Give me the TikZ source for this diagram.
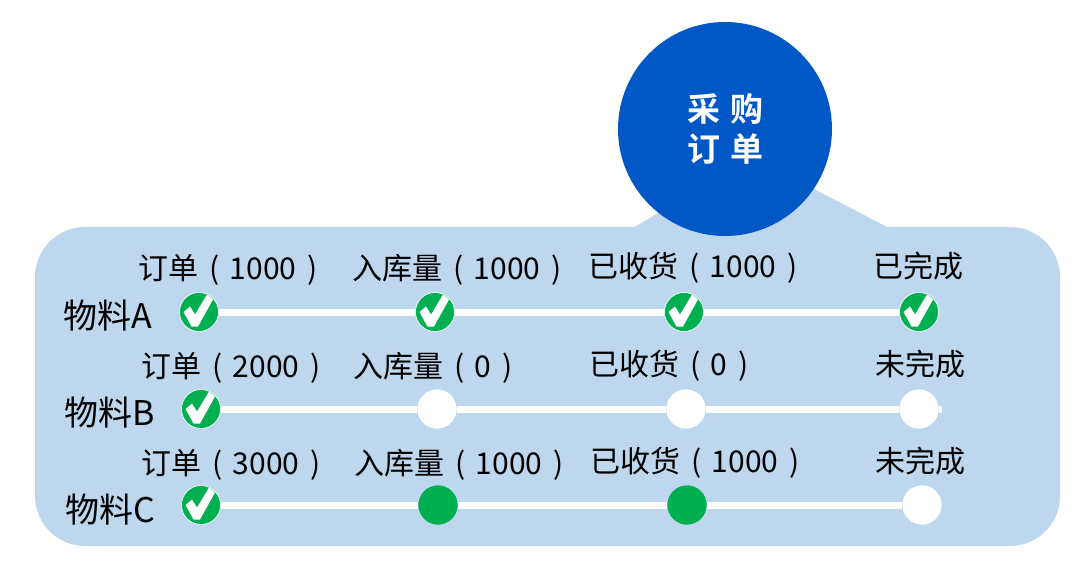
\documentclass[tikz,border=0pt]{standalone}
\usepackage{fontspec}
\setmainfont{Noto Sans CJK SC}
\newfontfamily\boldcjk{Noto Sans CJK SC Bold}
\definecolor{panel}{HTML}{BDD7EE}
\definecolor{disc}{HTML}{0058C6}
\definecolor{okgreen}{HTML}{00B050}
\newcommand{\gp}{\hspace{10.5pt}}
\tikzset{
  x=1pt,y=-1pt,
  lbl/.style={inner sep=0pt,font=\fontsize{30}{30}\selectfont,text=black},
  rowname/.style={inner sep=0pt,font=\fontsize{34}{34}\selectfont,text=black},
  dot/.style={circle,minimum size=39pt,inner sep=0pt},
  done/.style={dot,fill=okgreen,draw=white,line width=0.6pt,minimum size=39pt},
  open/.style={dot,fill=white},
  full/.style={dot,fill=okgreen},
  track/.style={white,line width=7pt},
  tick/.pic={\fill[white] (-15.5,0) -- (-9,-5.5) -- (-4,2.5) -- (8,-17.5) -- (14,-12.5) -- (-1,14.5) -- (-7.5,14.5) -- cycle;}
}
\begin{document}
\begin{tikzpicture}
\useasboundingbox (0,0) rectangle (1084,572);
\fill[panel,rounded corners=50pt] (35,227) rectangle (1060,546);
\fill[panel] (633,228) -- (665,209) -- (812,188) -- (889,228) -- cycle;
\node[circle,fill=disc,minimum size=214pt,inner sep=0pt] (hub) at (725,129) {};
\node[inner sep=0pt,text=white,font=\boldcjk\fontsize{33}{40}\selectfont,align=center] (hubt) at (725,129) {采\hspace{10pt}购\\订\hspace{10pt}单};
% row A
\node[done] (a1) at (199,312) {};
\node[done] (a2) at (435,312) {};
\node[done] (a3) at (684,312) {};
\node[done] (a4) at (919,312) {};
\draw[track] (a1) -- (a2);
\draw[track] (a2) -- (a3);
\draw[track] (a3) -- (a4);
\foreach \n in {a1,a2,a3,a4}{\node[done] at (\n) {}; \pic at (\n) {tick};}
% row B
\node[done] (b1) at (201,409) {};
\node[open] (b2) at (437,409) {};
\node[open] (b3) at (686,409) {};
\node[open] (b4) at (919,409) {};
\coordinate (bend) at (942,409);
\draw[track] (b1) -- (b2);
\draw[track] (b2) -- (b3);
\draw[track] (b3) -- (b4);
\draw[track] (b4) -- (bend);
\node[done] at (b1) {}; \pic at (b1) {tick};
\node[open] at (b2) {}; \node[open] at (b3) {}; \node[open] at (b4) {};
% row C
\node[done] (c1) at (201,505) {};
\node[full] (c2) at (438,505) {};
\node[full] (c3) at (687,505) {};
\node[open] (c4) at (922,505) {};
\draw[track] (c1) -- (c2);
\draw[track] (c2) -- (c3);
\draw[track] (c3) -- (c4);
\node[done] at (c1) {}; \pic at (c1) {tick};
\node[full] at (c2) {}; \node[full] at (c3) {}; \node[open] at (c4) {};
% row names
\node[rowname] (na) at (108,316) {物料A};
\node[rowname] (nb) at (110,413) {物料B};
\node[rowname] (nc) at (110,510) {物料C};
% labels
\node[lbl] (la1) at (228,270) {订单\gp(\gp 1000\gp)};
\node[lbl] (la2) at (457,270) {入库量\gp(\gp 1000\gp)};
\node[lbl] (la3) at (693,268) {已收货\gp(\gp 1000\gp)};
\node[lbl] (la4) at (918,266) {已完成};
\node[lbl] (lb1) at (231,368) {订单\gp(\gp 2000\gp)};
\node[lbl] (lb2) at (433,368) {入库量\gp(\gp 0\gp)};
\node[lbl] (lb3) at (669,366) {已收货\gp(\gp 0\gp)};
\node[lbl] (lb4) at (920,364) {未完成};
\node[lbl] (lc1) at (231,465) {订单\gp(\gp 3000\gp)};
\node[lbl] (lc2) at (459,465) {入库量\gp(\gp 1000\gp)};
\node[lbl] (lc3) at (695,463) {已收货\gp(\gp 1000\gp)};
\node[lbl] (lc4) at (920,461) {未完成};
\end{tikzpicture}
\end{document}
